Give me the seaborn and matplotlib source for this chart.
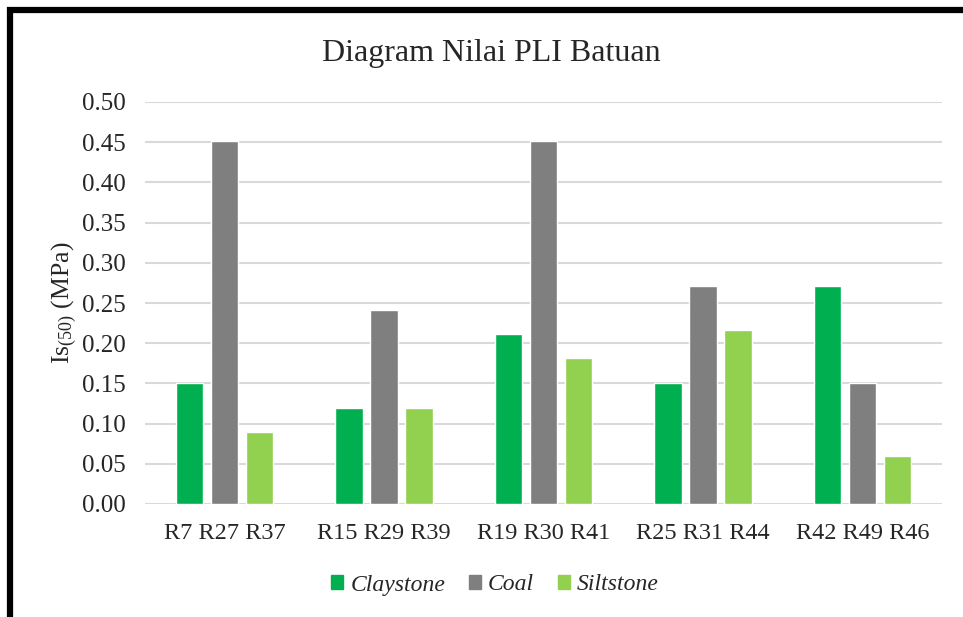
import matplotlib
matplotlib.use("Agg")
import matplotlib.pyplot as plt
import numpy as np
import pandas as pd
import seaborn as sns
from matplotlib.patches import Rectangle

# data
groups = ["R7 R27 R37", "R15 R29 R39", "R19 R30 R41", "R25 R31 R44", "R42 R49 R46"]
claystone = [0.15, 0.12, 0.211, 0.15, 0.271]
coal = [0.452, 0.241, 0.452, 0.271, 0.15]
siltstone = [0.09, 0.12, 0.181, 0.216, 0.06]
series = ["Claystone", "Coal", "Siltstone"]
colors = ["#00b050", "#7f7f7f", "#92d050"]
yticks = [0.0, 0.05, 0.10, 0.15, 0.20, 0.25, 0.30, 0.35, 0.40, 0.45, 0.50]

df = pd.DataFrame({"Group": groups, "Claystone": claystone,
                   "Coal": coal, "Siltstone": siltstone})
long = df.melt(id_vars="Group", var_name="Rock", value_name="Is50")

sns.set_theme(style="white")
serif = ["Liberation Serif", "DejaVu Serif"]
plt.rcParams["font.family"] = serif
plt.rcParams["mathtext.fontset"] = "custom"
plt.rcParams["mathtext.rm"] = "Liberation Serif"

fig = plt.figure(figsize=(9.63, 6.17), dpi=100)
ax = fig.add_axes([145 / 963, 1 - 504 / 617, 797 / 963, 402 / 617])

sns.barplot(data=long, x="Group", y="Is50", hue="Rock", hue_order=series,
            palette=colors, width=0.66, gap=0.22, saturation=1,
            ax=ax, legend=False, zorder=3)

ax.set_ylim(0, 0.5)
ax.set_yticks(yticks)
ax.set_yticklabels([f"{t:.2f}" for t in yticks], fontsize=18)
ax.tick_params(axis="x", labelsize=17.5, length=0, pad=14)
ax.tick_params(axis="y", length=0, pad=14)
ax.grid(axis="y", color="#d9d9d9", lw=1.5, zorder=0)
ax.set_axisbelow(True)
for s in ax.spines.values():
    s.set_visible(False)
ax.set_xlabel("")
ax.set_ylabel(r"Is$\mathrm{_{(50)}}$ (MPa)", fontsize=18.5, labelpad=2)

fig.text(491 / 963, 1 - 54 / 617, "Diagram Nilai PLI Batuan",
         ha="center", va="center", fontsize=23)

handles = [Rectangle((0, 0), 1, 1, color=c) for c in colors]
fig.legend(handles, series, loc="center", bbox_to_anchor=(495 / 963, 1 - 585 / 617),
           ncol=3, frameon=False,
           prop={"family": serif, "style": "italic", "size": 17},
           handlelength=0.52, handleheight=0.52, handletextpad=0.3, columnspacing=1.0)

# thick frame around the chart (right/bottom edges cut off in the reference)
fig.patches.append(Rectangle((10 / 963, -0.1), 1.1, 1 - 10 / 617 + 0.1,
                             transform=fig.transFigure, fill=False,
                             edgecolor="black", lw=4.5))

fig.savefig("out.png", dpi=100)
